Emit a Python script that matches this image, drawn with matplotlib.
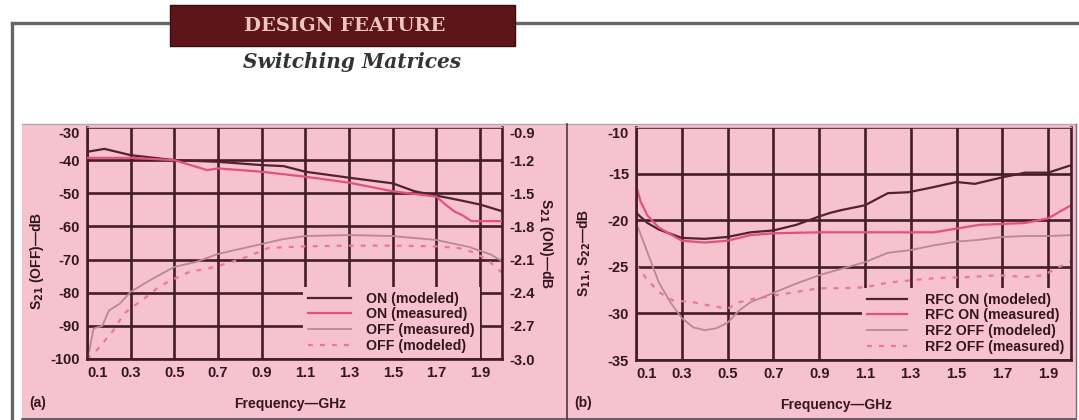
import matplotlib
matplotlib.use("Agg")
import matplotlib.pyplot as plt
from matplotlib.patches import Rectangle
from matplotlib.lines import Line2D

# ---------------- data ----------------
# Panel (a): S21, frequency in GHz
on_mod_f = [0.1, 0.18, 0.3, 0.5, 0.7, 0.9, 1.0, 1.1, 1.3, 1.5, 1.6, 1.7, 1.8, 1.9, 2.0]
on_mod_db = [-1.125, -1.098, -1.155, -1.200, -1.215, -1.245, -1.254, -1.305, -1.359,
             -1.410, -1.482, -1.521, -1.560, -1.602, -1.662]          # S21(ON) dB (right axis)
on_meas_f = [0.1, 0.3, 0.5, 0.6, 0.65, 0.7, 0.9, 1.1, 1.3, 1.5, 1.7, 1.74, 1.78, 1.82, 1.86, 2.0]
on_meas_db = [-1.179, -1.179, -1.200, -1.260, -1.290, -1.275, -1.305, -1.350, -1.404,
              -1.482, -1.530, -1.600, -1.662, -1.700, -1.752, -1.752]  # S21(ON) dB (right axis)
off_meas_f = [0.1, 0.11, 0.13, 0.15, 0.17, 0.2, 0.25, 0.3, 0.4, 0.5, 0.6, 0.7, 0.9, 1.0,
              1.1, 1.3, 1.5, 1.7, 1.85, 1.95, 2.0]
off_meas_db = [-100, -97.7, -90.8, -90.4, -90.0, -85.4, -83.3, -79.7, -75.8, -72.2, -70.7,
               -68.3, -65.3, -63.8, -62.9, -62.6, -62.9, -64.1, -66.2, -68.5, -70.5]
off_mod_f = [0.1, 0.15, 0.22, 0.27, 0.31, 0.35, 0.43, 0.48, 0.52, 0.57, 0.66, 0.75, 0.84,
             0.93, 1.1, 1.3, 1.5, 1.7, 1.8, 1.88, 1.95, 2.0]
off_mod_db = [-100, -97, -91.4, -86.3, -84.2, -82.4, -78.2, -76.4, -75.2, -73.7, -72.6,
              -71, -69, -66.5, -66, -65.8, -65.8, -66, -66.5, -68, -71, -74]

# Panel (b): S11, S22, frequency in GHz
rfc_mod_f = [0.1, 0.15, 0.2, 0.3, 0.4, 0.5, 0.6, 0.7, 0.8, 0.9, 0.95, 1.0, 1.1, 1.2, 1.29,
             1.39, 1.5, 1.58, 1.7, 1.8, 1.9, 2.0]
rfc_mod_db = [-19.2, -20.3, -21.0, -21.9, -22.0, -21.8, -21.3, -21.1, -20.5, -19.6, -19.2,
              -18.9, -18.4, -17.1, -17.0, -16.5, -15.9, -16.1, -15.4, -14.9, -14.9, -14.1]
rfc_meas_f = [0.1, 0.12, 0.15, 0.2, 0.3, 0.4, 0.5, 0.6, 0.7, 0.9, 1.0, 1.2, 1.4, 1.5, 1.6,
              1.8, 1.9, 2.0]
rfc_meas_db = [-16.2, -18.0, -19.5, -20.8, -22.2, -22.4, -22.2, -21.6, -21.4, -21.3, -21.3,
               -21.3, -21.3, -20.9, -20.5, -20.3, -19.8, -18.4]
rf2_mod_f = [0.1, 0.16, 0.2, 0.25, 0.3, 0.35, 0.4, 0.45, 0.5, 0.55, 0.6, 0.7, 0.8, 0.9,
             1.0, 1.1, 1.2, 1.3, 1.4, 1.5, 1.6, 1.7, 1.8, 1.9, 2.0]
rf2_mod_db = [-20.2, -24.1, -26.7, -28.8, -30.5, -31.5, -31.8, -31.6, -31.0, -29.7, -28.8,
              -27.8, -26.8, -25.9, -25.2, -24.5, -23.5, -23.2, -22.7, -22.3, -22.1, -21.8,
              -21.7, -21.7, -21.6]
rf2_meas_f = [0.1, 0.15, 0.2, 0.26, 0.35, 0.41, 0.5, 0.55, 0.62, 0.7, 0.8, 0.9, 1.0, 1.1,
              1.2, 1.32, 1.42, 1.56, 1.68, 1.8, 1.88, 1.95, 2.0]
rf2_meas_db = [-24.8, -26.4, -27.7, -28.6, -28.8, -29.1, -29.5, -28.8, -28.4, -28.1, -27.7,
               -27.3, -27.3, -27.2, -26.7, -26.4, -26.2, -26.1, -25.9, -26.1, -25.9, -25.0,
               -24.4]

x_ticks = [0.1, 0.3, 0.5, 0.7, 0.9, 1.1, 1.3, 1.5, 1.7, 1.9]
x_tick_labels = ["0.1", "0.3", "0.5", "0.7", "0.9", "1.1", "1.3", "1.5", "1.7", "1.9"]
a_left_ticks = [-30, -40, -50, -60, -70, -80, -90, -100]
a_right_ticks = [-0.9, -1.2, -1.5, -1.8, -2.1, -2.4, -2.7, -3.0]
b_ticks = [-10, -15, -20, -25, -30, -35]

legend_a = ["ON (modeled)", "ON (measured)", "OFF (measured)", "OFF (modeled)"]
legend_b = ["RFC ON (modeled)", "RFC ON (measured)", "RF2 OFF (modeled)", "RF2 OFF (measured)"]

# ---------------- style ----------------
FONT = ["Liberation Sans Narrow", "Liberation Sans", "DejaVu Sans"]
SERIF = ["DejaVu Serif", "Liberation Serif"]
plt.rcParams["font.family"] = FONT
plt.rcParams["font.weight"] = "bold"
plt.rcParams["mathtext.fontset"] = "custom"
plt.rcParams["mathtext.rm"] = "Liberation Sans Narrow:bold"
plt.rcParams["mathtext.it"] = "Liberation Sans Narrow:bold"
plt.rcParams["mathtext.bf"] = "Liberation Sans Narrow:bold"
plt.rcParams["mathtext.default"] = "rm"

PINK = "#f5c2ce"
GRID = "#431c28"
TXT = "#331620"
C_DARK = "#55202f"
C_RED = "#e2527d"
C_MAUVE = "#b98895"
C_DOT = "#e7789a"

W, H = 1079, 420
fig = plt.figure(figsize=(W / 100, H / 100), dpi=100)
fig.patch.set_facecolor("white")


def fx(x):
    return x / W


def fy(y):
    return 1 - y / H


BG = -5
# page frame
fig.add_artist(Line2D([fx(12), fx(1079)], [fy(23), fy(23)], color="#666666", lw=2.4, zorder=BG))
fig.add_artist(Line2D([fx(12), fx(12)], [fy(23), fy(420)], color="#666666", lw=2.4, zorder=BG))
# banner
fig.add_artist(Rectangle((fx(170), fy(46)), fx(345), 41 / H, facecolor="#5c1518",
                         edgecolor="#3a0c0e", lw=1, zorder=BG + 1))
fig.text(fx(345), fy(26), "DESIGN FEATURE", ha="center", va="center", color="#ecc4c2",
         family=SERIF, fontweight="bold", fontsize=14)
fig.text(fx(352), fy(62), "Switching Matrices", ha="center", va="center", color="#333333",
         family=SERIF, fontweight="bold", style="italic", fontsize=14.5)
# pink panels
fig.add_artist(Rectangle((fx(22), fy(419)), fx(1054), 295 / H, facecolor=PINK,
                         edgecolor="none", zorder=BG))
fig.add_artist(Line2D([fx(22), fx(1076)], [fy(124), fy(124)], color="#b9a4a8", lw=1, zorder=BG + 1))
fig.add_artist(Line2D([fx(22), fx(1076)], [fy(419), fy(419)], color="#4a4a4a", lw=1.2, zorder=BG + 1))
fig.add_artist(Line2D([fx(567), fx(567)], [fy(124), fy(419)], color="#4a3a3e", lw=1.2, zorder=BG + 1))
fig.add_artist(Line2D([fx(1076), fx(1076)], [fy(124), fy(419)], color="#7a6a6e", lw=1, zorder=BG + 1))

TICK_FS = 10.5
LEG_FS = 10.2


def style_axes(ax):
    ax.set_facecolor(PINK)
    ax.set_xlim(0.1, 2.0)
    ax.set_xticks(x_ticks)
    ax.set_xticklabels(x_tick_labels)
    ax.grid(True, color=GRID, lw=1.9)
    ax.set_axisbelow(True)
    for s in ("left", "bottom", "right"):
        ax.spines[s].set_color(GRID)
        ax.spines[s].set_linewidth(1.9)
    ax.spines["top"].set_color("#c9a9b0")
    ax.spines["top"].set_linewidth(0.8)
    ax.tick_params(axis="both", length=0, labelsize=TICK_FS, colors=TXT, pad=5)
    labs = ax.get_xticklabels()
    labs[0].set_horizontalalignment("left")


LW = 1.6

# ---------------- panel (a) ----------------
axa = fig.add_axes([fx(87), fy(359), 415 / W, 232 / H])
style_axes(axa)
axa.set_ylim(-100, -30)
axa.set_yticks(a_left_ticks)
axa.set_yticklabels([str(v) for v in a_left_ticks])
axa.get_yticklabels()[0].set_verticalalignment("top")
axr = axa.twinx()
axr.set_ylim(-3.0, -0.9)
axr.set_yticks(a_right_ticks)
axr.set_yticklabels(["%.1f" % v for v in a_right_ticks])
axr.tick_params(axis="y", length=0, labelsize=TICK_FS, colors=TXT, pad=5)
axr.get_yticklabels()[0].set_verticalalignment("top")
for s in axr.spines.values():
    s.set_visible(False)

l1, = axr.plot(on_mod_f, on_mod_db, color=C_DARK, lw=LW)
l2, = axr.plot(on_meas_f, on_meas_db, color=C_RED, lw=LW)
l3, = axa.plot(off_meas_f, off_meas_db, color=C_MAUVE, lw=1.3)
l4, = axa.plot(off_mod_f, off_mod_db, color=C_DOT, lw=LW, ls=(0, (2.2, 3.2)))

axa.set_ylabel("S$_{21}$ (OFF)\u2014dB", fontsize=10, color=TXT, fontweight="bold")
axa.yaxis.set_label_coords(-0.1, 0.42)
axr.set_ylabel("S$_{21}$ (ON)\u2014dB", fontsize=10, color=TXT, fontweight="bold",
               rotation=270, labelpad=15)
axa.set_xlabel("Frequency\u2014GHz", fontsize=10, color=TXT, fontweight="bold")
axa.xaxis.set_label_coords(0.49, -0.165)

leg = axr.legend([l1, l2, l3, l4], legend_a, loc="lower right",
                 bbox_to_anchor=(0.95, 0.0), frameon=True, facecolor=PINK,
                 edgecolor="none", framealpha=1, fancybox=False, fontsize=LEG_FS,
                 handlelength=3.0, handletextpad=1.1, labelspacing=0.12,
                 borderpad=0.35, borderaxespad=0.1)
for t in leg.get_texts():
    t.set_color(TXT)

fig.text(fx(38), fy(403), "(a)", ha="center", va="center", fontsize=10, color=TXT,
         fontweight="bold")

# ---------------- panel (b) ----------------
axb = fig.add_axes([fx(636), fy(360), 435 / W, 233 / H])
style_axes(axb)
axb.set_ylim(-35, -10)
axb.set_yticks(b_ticks)
axb.set_yticklabels([str(v) for v in b_ticks])
axb.get_yticklabels()[0].set_verticalalignment("top")

m1, = axb.plot(rfc_mod_f, rfc_mod_db, color=C_DARK, lw=LW)
m2, = axb.plot(rfc_meas_f, rfc_meas_db, color=C_RED, lw=LW)
m3, = axb.plot(rf2_mod_f, rf2_mod_db, color=C_MAUVE, lw=1.3)
m4, = axb.plot(rf2_meas_f, rf2_meas_db, color=C_DOT, lw=LW, ls=(0, (2.2, 3.2)))

axb.set_ylabel("S$_{11}$, S$_{22}$\u2014dB", fontsize=10, color=TXT, fontweight="bold")
axb.yaxis.set_label_coords(-0.1, 0.46)
axb.set_xlabel("Frequency\u2014GHz", fontsize=10, color=TXT, fontweight="bold")
axb.xaxis.set_label_coords(0.46, -0.165)

legb = axb.legend([m1, m2, m3, m4], legend_b, loc="lower right",
                  bbox_to_anchor=(1.0, 0.0), frameon=True, facecolor=PINK,
                  edgecolor="none", framealpha=1, fancybox=False, fontsize=LEG_FS,
                  handlelength=2.8, handletextpad=1.3, labelspacing=0.12,
                  borderpad=0.35, borderaxespad=0.1)
for t in legb.get_texts():
    t.set_color(TXT)

fig.text(fx(583), fy(403), "(b)", ha="center", va="center", fontsize=10, color=TXT,
         fontweight="bold")

fig.savefig("out.png", dpi=100)
